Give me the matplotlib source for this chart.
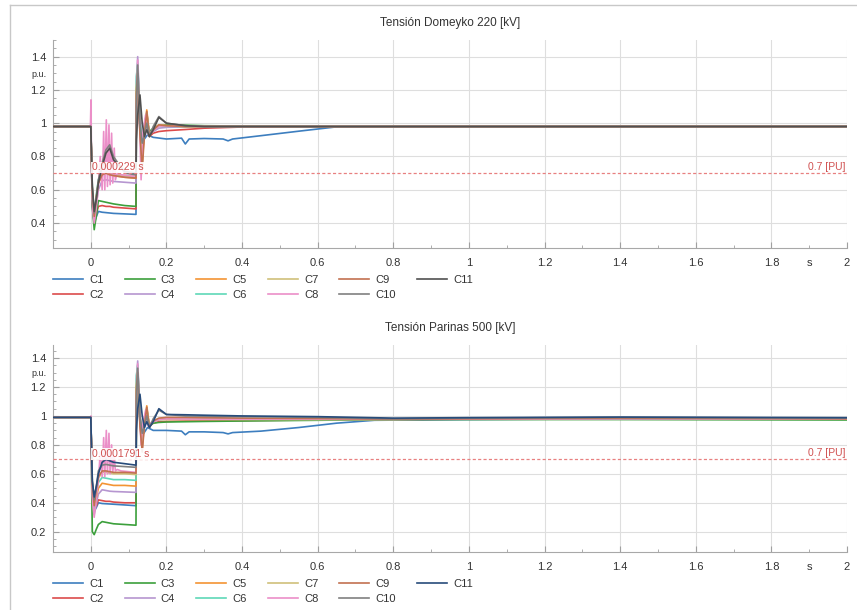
import matplotlib
matplotlib.use("Agg")
import matplotlib.pyplot as plt
from matplotlib.lines import Line2D
from matplotlib.ticker import MultipleLocator, FuncFormatter

plt.rcParams["font.family"] = ["Liberation Sans", "DejaVu Sans"]

# ---- data ----
names = ["C1", "C2", "C3", "C4", "C5", "C6", "C7", "C8", "C9", "C10", "C11"]

# shared time base for the "smooth" curves
t_base = [-0.1, -0.001, 0.0,
          0.004, 0.009, 0.015, 0.02, 0.03, 0.04, 0.05, 0.06, 0.09, 0.1195,
          0.1205, 0.124, 0.13, 0.136, 0.142, 0.148, 0.155, 0.165, 0.18, 0.2,
          0.25, 0.3, 0.4, 0.6, 0.8, 1.0, 1.4, 2.0]

# C1 and C8 have their own time stamps
t_c1 = [-0.1, -0.001, 0.0, 0.004, 0.009, 0.015, 0.02, 0.03, 0.06, 0.09, 0.1195,
        0.1205, 0.125, 0.13, 0.14, 0.15, 0.165, 0.2, 0.24, 0.25, 0.26, 0.3,
        0.35, 0.363, 0.375, 0.45, 0.55, 0.65, 1.0, 2.0]
t_c1_bot = [-0.1, -0.001, 0.0, 0.004, 0.009, 0.015, 0.02, 0.03, 0.06, 0.09, 0.1195,
            0.1205, 0.125, 0.13, 0.14, 0.15, 0.165, 0.2, 0.24, 0.25, 0.26, 0.3,
            0.35, 0.363, 0.375, 0.45, 0.55, 0.65, 0.75, 1.0, 1.4, 2.0]
t_c8 = [-0.1, -0.001, 0.0005, 0.002, 0.005, 0.009, 0.015, 0.02, 0.025, 0.03,
        0.034, 0.037, 0.041, 0.044, 0.048, 0.051, 0.055, 0.058, 0.062, 0.065,
        0.07, 0.08, 0.1195, 0.1205, 0.124, 0.128, 0.133, 0.138, 0.145, 0.152,
        0.16, 0.18, 0.2, 0.3, 2.0]

# Domeyko 220 kV
dom_c1 = [0.98, 0.98, 0.98, 0.50, 0.40, 0.44, 0.47, 0.465, 0.458, 0.455, 0.452,
          1.00, 1.20, 0.95, 0.90, 0.93, 0.915, 0.905, 0.91, 0.875, 0.905, 0.908,
          0.905, 0.894, 0.905, 0.925, 0.952, 0.978, 0.98, 0.98]
dom_c2 = [0.98, 0.98, 0.98,
          0.52, 0.40, 0.46, 0.50, 0.505, 0.50, 0.50, 0.495, 0.49, 0.485,
          1.05, 1.22, 0.98, 0.82, 0.93, 1.00, 0.92, 0.94, 0.95, 0.955,
          0.962, 0.97, 0.977, 0.98, 0.98, 0.98, 0.98, 0.98]
dom_c3 = [0.98, 0.98, 0.98,
          0.50, 0.36, 0.45, 0.535, 0.53, 0.525, 0.52, 0.515, 0.505, 0.50,
          1.10, 1.28, 1.00, 0.86, 0.98, 1.02, 0.95, 0.97, 0.985, 0.99,
          0.988, 0.985, 0.983, 0.98, 0.98, 0.98, 0.98, 0.98]
dom_c4 = [0.98, 0.98, 0.98,
          0.55, 0.42, 0.52, 0.60, 0.655, 0.66, 0.655, 0.65, 0.645, 0.64,
          1.25, 1.40, 1.05, 0.86, 0.98, 1.06, 0.93, 0.95, 0.97, 0.975,
          0.978, 0.98, 0.98, 0.98, 0.98, 0.98, 0.98, 0.98]
dom_c5 = [0.98, 0.98, 0.98,
          0.58, 0.44, 0.56, 0.64, 0.69, 0.70, 0.69, 0.685, 0.675, 0.67,
          1.20, 1.30, 0.95, 0.76, 0.95, 1.08, 0.93, 0.96, 0.99, 0.985,
          0.98, 0.98, 0.98, 0.98, 0.98, 0.98, 0.98, 0.98]
dom_c6 = [0.98, 0.98, 0.98,
          0.60, 0.45, 0.58, 0.66, 0.70, 0.72, 0.70, 0.69, 0.685, 0.68,
          1.28, 1.36, 1.02, 0.86, 1.00, 1.06, 0.93, 0.96, 0.98, 0.982,
          0.98, 0.98, 0.98, 0.98, 0.98, 0.98, 0.98, 0.98]
dom_c7 = [0.98, 0.98, 0.98,
          0.60, 0.45, 0.57, 0.65, 0.70, 0.71, 0.70, 0.69, 0.685, 0.68,
          1.22, 1.32, 0.98, 0.80, 0.98, 1.05, 0.93, 0.97, 0.99, 0.985,
          0.98, 0.98, 0.98, 0.98, 0.98, 0.98, 0.98, 0.98]
dom_c8 = [0.98, 0.98, 1.14, 0.70, 0.48, 0.40, 0.50, 0.62, 0.80, 0.60, 0.95, 0.60,
          1.02, 0.62, 0.99, 0.63, 0.94, 0.64, 0.85, 0.66, 0.70, 0.69, 0.68, 1.10,
          1.38, 1.10, 0.66, 0.95, 1.05, 0.93, 0.95, 0.98, 0.985, 0.98, 0.98]
dom_c9 = [0.98, 0.98, 0.98,
          0.58, 0.44, 0.56, 0.64, 0.69, 0.70, 0.69, 0.685, 0.675, 0.67,
          1.18, 1.30, 0.93, 0.72, 0.94, 1.07, 0.92, 0.96, 0.99, 0.985,
          0.98, 0.98, 0.98, 0.98, 0.98, 0.98, 0.98, 0.98]
dom_c10 = [0.98, 0.98, 0.98,
           0.62, 0.46, 0.56, 0.66, 0.76, 0.84, 0.87, 0.80, 0.70, 0.69,
           1.10, 1.35, 1.00, 0.88, 0.93, 1.00, 0.92, 0.98, 1.04, 1.00,
           0.985, 0.98, 0.98, 0.98, 0.98, 0.98, 0.98, 0.98]
dom_c11 = [0.98, 0.98, 0.98,
           0.62, 0.47, 0.55, 0.64, 0.74, 0.82, 0.85, 0.78, 0.71, 0.70,
           0.90, 1.05, 1.17, 1.00, 0.92, 0.96, 0.92, 0.96, 1.035, 1.00,
           0.985, 0.98, 0.98, 0.98, 0.98, 0.98, 0.98, 0.98]

# Parinas 500 kV
par_c1 = [0.99, 0.99, 0.99, 0.48, 0.34, 0.37, 0.40, 0.395, 0.39, 0.385, 0.38,
          0.95, 1.15, 0.95, 0.88, 0.92, 0.90, 0.90, 0.895, 0.87, 0.89, 0.89,
          0.885, 0.876, 0.885, 0.895, 0.92, 0.95, 0.97, 0.975, 0.98, 0.978]
par_c2 = [0.99, 0.99, 0.99,
          0.50, 0.36, 0.38, 0.42, 0.415, 0.41, 0.41, 0.405, 0.40, 0.40,
          1.05, 1.25, 1.00, 0.85, 0.95, 1.00, 0.93, 0.95, 0.96, 0.962,
          0.965, 0.966, 0.968, 0.972, 0.975, 0.978, 0.98, 0.978]
par_c3 = [0.99, 0.99, 0.99,
          0.20, 0.18, 0.22, 0.25, 0.27, 0.265, 0.26, 0.255, 0.25, 0.245,
          1.05, 1.25, 0.98, 0.85, 0.95, 1.00, 0.93, 0.95, 0.955, 0.958,
          0.96, 0.962, 0.965, 0.97, 0.975, 0.975, 0.975, 0.972]
par_c4 = [0.99, 0.99, 0.99,
          0.45, 0.32, 0.40, 0.46, 0.49, 0.485, 0.48, 0.478, 0.475, 0.472,
          1.25, 1.38, 1.00, 0.85, 0.98, 1.04, 0.93, 0.96, 0.975, 0.98,
          0.98, 0.98, 0.978, 0.977, 0.976, 0.98, 0.985, 0.98]
par_c5 = [0.99, 0.99, 0.99,
          0.48, 0.34, 0.44, 0.50, 0.535, 0.53, 0.525, 0.52, 0.52, 0.515,
          1.20, 1.30, 0.95, 0.78, 0.95, 1.07, 0.93, 0.96, 0.98, 0.982,
          0.982, 0.98, 0.978, 0.977, 0.976, 0.98, 0.985, 0.98]
par_c6 = [0.99, 0.99, 0.99,
          0.50, 0.36, 0.47, 0.54, 0.575, 0.57, 0.565, 0.56, 0.56, 0.555,
          1.28, 1.35, 1.00, 0.85, 0.98, 1.05, 0.93, 0.96, 0.975, 0.978,
          0.978, 0.978, 0.977, 0.976, 0.976, 0.98, 0.985, 0.98]
par_c7 = [0.99, 0.99, 0.99,
          0.52, 0.38, 0.50, 0.57, 0.61, 0.61, 0.605, 0.60, 0.60, 0.595,
          1.22, 1.32, 0.98, 0.82, 0.97, 1.04, 0.93, 0.965, 0.975, 0.975,
          0.975, 0.975, 0.975, 0.975, 0.976, 0.98, 0.985, 0.98]
par_c8 = [0.99, 0.99, 1.00, 0.60, 0.40, 0.30, 0.45, 0.55, 0.75, 0.58, 0.85, 0.58,
          0.90, 0.60, 0.88, 0.60, 0.80, 0.61, 0.72, 0.62, 0.63, 0.62, 0.61, 1.10,
          1.36, 1.08, 0.80, 0.95, 1.04, 0.93, 0.955, 0.975, 0.98, 0.978, 0.98]
par_c9 = [0.99, 0.99, 0.99,
          0.52, 0.38, 0.50, 0.58, 0.62, 0.62, 0.615, 0.61, 0.61, 0.605,
          1.18, 1.30, 0.93, 0.75, 0.94, 1.06, 0.92, 0.965, 0.985, 0.99,
          0.99, 0.988, 0.985, 0.982, 0.978, 0.98, 0.985, 0.98]
par_c10 = [0.99, 0.99, 0.99,
           0.55, 0.42, 0.52, 0.62, 0.66, 0.665, 0.66, 0.655, 0.65, 0.645,
           1.10, 1.33, 1.00, 0.88, 0.93, 1.00, 0.92, 0.98, 1.04, 1.01,
           1.00, 0.998, 0.995, 0.99, 0.98, 0.985, 0.99, 0.985]
par_c11 = [0.99, 0.99, 0.99,
           0.55, 0.44, 0.52, 0.60, 0.68, 0.70, 0.69, 0.68, 0.67, 0.66,
           0.90, 1.05, 1.15, 1.00, 0.92, 0.96, 0.92, 0.96, 1.05, 1.01,
           1.008, 1.005, 1.00, 0.995, 0.985, 0.988, 0.992, 0.988]

threshold = 0.7
x_ticks = [0, 0.2, 0.4, 0.6, 0.8, 1.0, 1.2, 1.4, 1.6, 1.8, 2.0]

panels = [
    {
        "title": "Tensión Domeyko 220 [kV]",
        "series": [dom_c1, dom_c2, dom_c3, dom_c4, dom_c5, dom_c6, dom_c7,
                   dom_c8, dom_c9, dom_c10, dom_c11],
        "t_c1": t_c1,
        "ylim": (0.25, 1.5),
        "cross": "0.000229 s",
        "c11": "#505050",
    },
    {
        "title": "Tensión Parinas 500 [kV]",
        "series": [par_c1, par_c2, par_c3, par_c4, par_c5, par_c6, par_c7,
                   par_c8, par_c9, par_c10, par_c11],
        "t_c1": t_c1_bot,
        "ylim": (0.06, 1.49),
        "cross": "0.0001791 s",
        "c11": "#274b7a",
    },
]

colors = ["#3d7ebf", "#dc4b4b", "#3ca03c", "#b696d0", "#f39433", "#5fd8b8",
          "#cfc07a", "#eb8fc8", "#c27150", "#808080"]
red_line = "#e88080"
txt_col = "#333333"

W, H = 857, 610
fig = plt.figure(figsize=(W / 100, H / 100), dpi=100)

# light frame
fig.add_artist(Line2D([10 / W, 10 / W], [0, 1 - 5 / H], color="#c8c8c8", lw=1))
fig.add_artist(Line2D([10 / W, 1], [1 - 5 / H, 1 - 5 / H], color="#c8c8c8", lw=1))

axes_px = [(40, 248), (345, 552)]
for panel, (top_px, bot_px) in zip(panels, axes_px):
    ax = fig.add_axes([53 / W, 1 - bot_px / H, (847 - 53) / W, (bot_px - top_px) / H])
    cols = colors + [panel["c11"]]
    for i, (name, vals) in enumerate(zip(names, panel["series"])):
        if name == "C1":
            tt = panel["t_c1"]
        elif name == "C8":
            tt = t_c8
        else:
            tt = t_base
        ax.plot(tt, vals, color=cols[i], lw=1.2, label=name, zorder=3)

    ax.axhline(threshold, color=red_line, lw=0.9, ls=(0, (2.5, 1.8)), zorder=4)
    ax.text(1.995, threshold + 0.008, "0.7 [PU]", color="#d05050", fontsize=7.5,
            ha="right", va="bottom", zorder=5)
    ax.text(0.004, threshold + 0.004, panel["cross"], color="#d05050", fontsize=7.5,
            ha="left", va="bottom", zorder=5,
            bbox=dict(facecolor="white", edgecolor="none", pad=0.6, alpha=0.9))

    ax.set_xlim(-0.1, 2.0)
    ax.set_ylim(*panel["ylim"])
    ax.set_xticks(x_ticks)
    ax.xaxis.set_major_formatter(FuncFormatter(lambda v, p: f"{v:g}"))
    ax.xaxis.set_minor_locator(MultipleLocator(0.1))
    ax.xaxis.set_minor_formatter(FuncFormatter(lambda v, p: "s" if abs(v - 1.9) < 1e-6 else ""))
    ax.yaxis.set_major_locator(MultipleLocator(0.2))
    ax.yaxis.set_major_formatter(FuncFormatter(lambda v, p: f"{v:g}"))
    ax.yaxis.set_minor_locator(MultipleLocator(0.05))
    ax.yaxis.set_minor_formatter(FuncFormatter(lambda v, p: "p.u." if abs(v - 1.3) < 1e-6 else ""))

    ax.tick_params(which="both", direction="in", colors="#a0a0a0", labelcolor=txt_col)
    ax.tick_params(which="major", length=4, labelsize=8)
    ax.tick_params(which="minor", length=2.5)
    ax.tick_params(axis="x", which="both", pad=7)
    ax.tick_params(axis="y", which="both", pad=5)
    ax.tick_params(axis="x", which="minor", labelsize=8)
    ax.tick_params(axis="y", which="minor", labelsize=6.5)
    ax.grid(True, which="major", color="#dedede", lw=0.8, zorder=0)
    for side in ("top", "right"):
        ax.spines[side].set_visible(False)
    for side in ("left", "bottom"):
        ax.spines[side].set_color("#a8a8a8")
        ax.spines[side].set_linewidth(0.8)

    ax.set_title(panel["title"], fontsize=8.5, color=txt_col, pad=10)

    h = bot_px - top_px
    ax.legend(loc="upper left", bbox_to_anchor=(0, -27 / h), ncol=6, frameon=False,
              fontsize=8, handlelength=2.7, handletextpad=0.55, columnspacing=1.9,
              labelspacing=0.45, borderpad=0, borderaxespad=0, labelcolor=txt_col)

fig.savefig("out.png", dpi=100)
